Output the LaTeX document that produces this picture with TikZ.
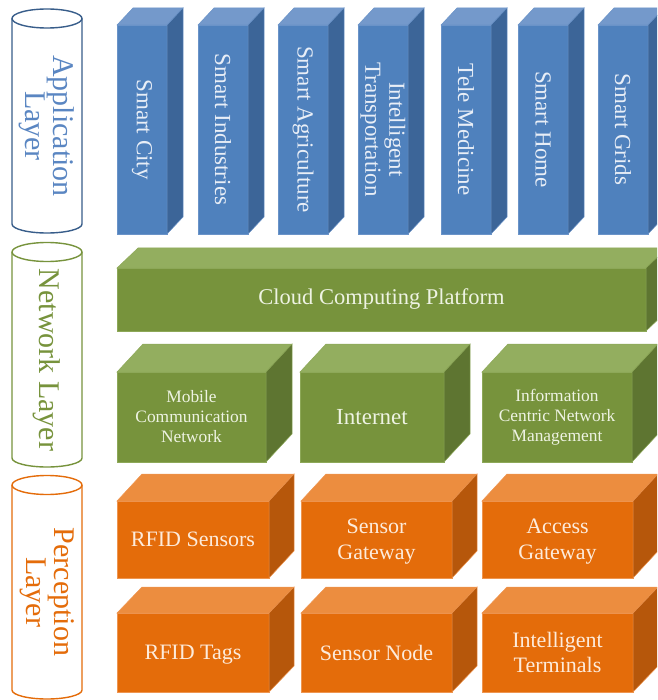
\documentclass[tikz,border=0pt]{standalone}
\usepackage{fontspec}
\setmainfont{Liberation Serif}
\usetikzlibrary{positioning}

% colours of the three layers
\definecolor{bluefront}{HTML}{4F81BD}
\definecolor{bluetop}{HTML}{7499CB}
\definecolor{blueside}{HTML}{3C6598}
\definecolor{blueedge}{HTML}{6A93C8}
\definecolor{bluetext}{HTML}{E8EEF7}
\definecolor{greenfront}{HTML}{77933C}
\definecolor{greentop}{HTML}{93AE5F}
\definecolor{greenside}{HTML}{5E7531}
\definecolor{greenedge}{HTML}{8DA858}
\definecolor{greentext}{HTML}{EEF3E3}
\definecolor{orangefront}{HTML}{E46C0A}
\definecolor{orangetop}{HTML}{EC8D3F}
\definecolor{orangeside}{HTML}{B6570B}
\definecolor{orangeedge}{HTML}{EE9550}
\definecolor{orangetext}{HTML}{FDEBDB}
\definecolor{appline}{HTML}{385D8A}
\definecolor{apptext}{HTML}{5A86C2}
\definecolor{netline}{HTML}{77933C}
\definecolor{perline}{HTML}{E46C0A}

\tikzset{
  face/.style={rectangle, inner sep=0pt, outer sep=0pt, line width=0.5pt,
    draw=#1edge, fill=#1front, text=#1text, align=center},
  cyl/.style={line width=1.4pt, draw=#1, fill=white},
}

% top and right side of a box drawn on the front node
\newcommand{\boxfaces}[4]{%
  \filldraw[fill=#4top, draw=#4edge, line width=0.5pt] (#1.north west) -- ++(#2,-#3)
    -- ([shift={(#2,-#3)}]#1.north east) -- (#1.north east) -- cycle;
  \filldraw[fill=#4side, draw=#4edge, line width=0.5pt] (#1.north east) -- ++(#2,-#3)
    -- ([shift={(#2,-#3)}]#1.south east) -- (#1.south east) -- cycle;
}

\begin{document}
\begin{tikzpicture}[x=1pt, y=-1pt]
\useasboundingbox (0,0) rectangle (657,700);
\clip (0,0) rectangle (657,700);

% layer cylinders
\draw[cyl=appline] (12,18.5) -- (12,224) arc (180:0:35 and 9) -- (82,18.5);
\draw[cyl=appline] (47,18.5) ellipse (35 and 9.5);
\node[rotate=-90, text=apptext, align=center, font=\fontsize{30}{28}\selectfont] (applbl) at (47,126) {Application\\Layer};

\draw[cyl=netline] (12,252) -- (12,458) arc (180:0:35 and 9) -- (82,252);
\draw[cyl=netline] (47,252) ellipse (35 and 9.5);
\node[rotate=-90, text=netline, font=\fontsize{30}{28}\selectfont] (netlbl) at (47,360) {Network Layer};

\draw[cyl=perline] (12,485) -- (12,690) arc (180:0:35 and 9) -- (82,485);
\draw[cyl=perline] (47,485) ellipse (35 and 9.5);
\node[rotate=-90, text=perline, align=center, font=\fontsize{30}{28}\selectfont] (perlbl) at (47,592) {Perception\\Layer};

% application layer boxes
\foreach \x/\name/\txt in {117/city/Smart City, 198/industry/Smart Industries,
    278/agri/Smart Agriculture, 358/transport/{Intelligent\\Transportation},
    441/medicine/Tele Medicine, 518/home/Smart Home, 598/grids/Smart Grids}{
  \node[face=blue, minimum width=50pt, minimum height=209pt] (\name) at ({\x+25},129.5) {};
  \boxfaces{\name}{16}{17}{blue}
  \node[rotate=-90, text=bluetext, align=center, font=\fontsize{23}{24}\selectfont] (\name lbl) at (\name) {\txt};
}

% network layer
\node[face=green, minimum width=529pt, minimum height=63pt, font=\fontsize{22.5}{24}\selectfont] (cloud) at (381.5,299.5) {Cloud Computing Platform};
\boxfaces{cloud}{21}{20}{green}

\node[face=green, minimum width=149pt, minimum height=90pt, font=\fontsize{17.4}{20}\selectfont] (mobile) at (191.5,417) {Mobile\\Communication\\Network};
\boxfaces{mobile}{26}{28}{green}
\node[face=green, minimum width=144pt, minimum height=90pt, font=\fontsize{23}{24}\selectfont] (internet) at (372,417) {Internet};
\boxfaces{internet}{26}{28}{green}
\node[face=green, minimum width=150pt, minimum height=90pt, font=\fontsize{17.4}{20}\selectfont] (icn) at (557,417) {Information\\Centric Network\\Management};
\boxfaces{icn}{26}{28}{green}

% perception layer
\node[face=orange, minimum width=152pt, minimum height=77pt, font=\fontsize{22}{26}\selectfont] (rfids) at (193,539.5) {RFID Sensors};
\boxfaces{rfids}{25}{27}{orange}
\node[face=orange, minimum width=151pt, minimum height=77pt, font=\fontsize{22}{26}\selectfont, text depth=0pt] (sgate) at (376.5,539.5) {Sensor\\Gateway};
\boxfaces{sgate}{25}{27}{orange}
\node[face=orange, minimum width=151pt, minimum height=77pt, font=\fontsize{22}{26}\selectfont, text depth=0pt] (agate) at (557.5,539.5) {Access\\Gateway};
\boxfaces{agate}{25}{27}{orange}

\node[face=orange, minimum width=152pt, minimum height=79pt, font=\fontsize{22}{25}\selectfont, text depth=0pt] (tags) at (193,652.5) {RFID Tags};
\boxfaces{tags}{25}{26}{orange}
\node[face=orange, minimum width=151pt, minimum height=79pt, font=\fontsize{22}{25}\selectfont, text depth=0pt] (snode) at (376.5,652.5) {Sensor Node};
\boxfaces{snode}{25}{26}{orange}
\node[face=orange, minimum width=151pt, minimum height=79pt, font=\fontsize{22}{25}\selectfont, text depth=0pt] (terms) at (557.5,652.5) {Intelligent\\Terminals};
\boxfaces{terms}{25}{26}{orange}
\end{tikzpicture}
\end{document}
